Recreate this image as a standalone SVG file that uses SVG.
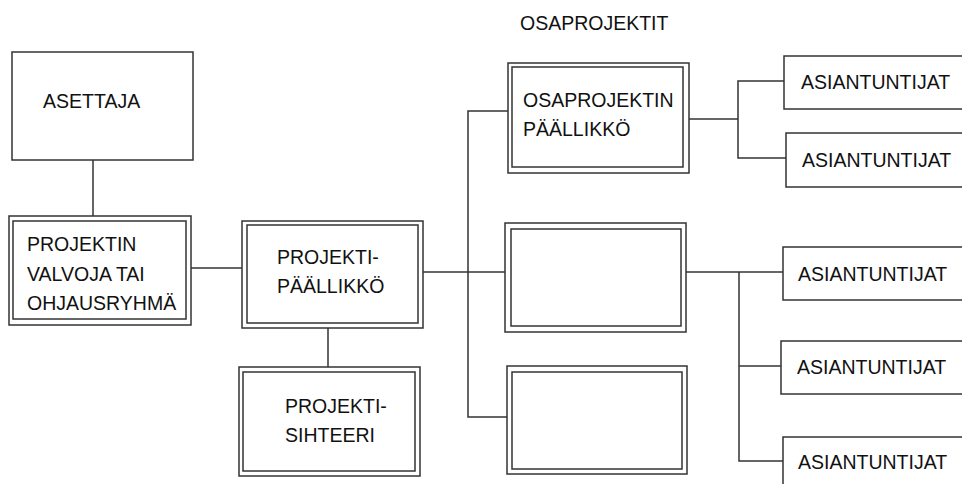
<svg xmlns="http://www.w3.org/2000/svg" width="962" height="484" viewBox="0 0 962 484">
<style>
rect{fill:none;stroke:#333;stroke-width:1.5}
.bg{fill:#fff;stroke:none}
line,polyline{fill:none;stroke:#333;stroke-width:1.5}
text{font-family:"Liberation Sans",Arial,sans-serif;font-size:19.5px;fill:#111}
</style>
<rect class="bg" x="0" y="0" width="962" height="484"/>
<text x="520" y="30">OSAPROJEKTIT</text>
<g id="connectors">
<line x1="93" y1="160" x2="93" y2="216"/>
<line x1="191" y1="268" x2="242" y2="268"/>
<line x1="328" y1="328" x2="328" y2="367"/>
<line x1="423" y1="272" x2="505" y2="272"/>
<polyline points="508,111 468,111 468,417 507,417"/>
<line x1="689" y1="119" x2="738" y2="119"/>
<polyline points="784,81 738,81 738,158 786,158"/>
<line x1="686" y1="272" x2="783" y2="272"/>
<polyline points="739,272 739,461 783,461"/>
<line x1="739" y1="366" x2="781" y2="366"/>
</g>
<g id="asettaja">
<rect x="12" y="52" width="181" height="108"/>
<text x="43" y="108">ASETTAJA</text>
</g>
<g id="valvoja">
<rect x="9" y="216" width="182" height="109"/>
<rect x="13" y="221" width="173" height="98"/>
<text x="27" y="251">PROJEKTIN</text>
<text x="27" y="281">VALVOJA TAI</text>
<text x="27" y="310">OHJAUSRYHMÄ</text>
</g>
<g id="paallikko">
<rect x="242" y="221" width="181" height="107"/>
<rect x="247" y="225" width="171" height="98"/>
<text x="277" y="264">PROJEKTI-</text>
<text x="277" y="293">PÄÄLLIKKÖ</text>
</g>
<g id="sihteeri">
<rect x="239" y="367" width="181" height="109"/>
<rect x="243" y="372" width="172" height="99"/>
<text x="285" y="413">PROJEKTI-</text>
<text x="285" y="442">SIHTEERI</text>
</g>
<g id="osaprojektin-paallikko">
<rect x="508" y="63" width="181" height="110"/>
<rect x="512" y="67" width="171" height="100"/>
<text x="523" y="107">OSAPROJEKTIN</text>
<text x="523" y="136">PÄÄLLIKKÖ</text>
</g>
<g id="osaprojekti2">
<rect x="505" y="223" width="181" height="109"/>
<rect x="511" y="229" width="170" height="97"/>
</g>
<g id="osaprojekti3">
<rect x="507" y="366" width="180" height="108"/>
<rect x="512" y="372" width="170" height="97"/>
</g>
<g id="asiantuntijat1">
<rect x="784" y="56" width="190" height="53"/>
<text x="801" y="89">ASIANTUNTIJAT</text>
</g>
<g id="asiantuntijat2">
<rect x="786" y="133" width="190" height="54"/>
<text x="802" y="167">ASIANTUNTIJAT</text>
</g>
<g id="asiantuntijat3">
<rect x="783" y="247" width="190" height="53"/>
<text x="798" y="281">ASIANTUNTIJAT</text>
</g>
<g id="asiantuntijat4">
<rect x="781" y="341" width="190" height="53"/>
<text x="797" y="374">ASIANTUNTIJAT</text>
</g>
<g id="asiantuntijat5">
<rect x="783" y="437" width="190" height="60"/>
<text x="798" y="469">ASIANTUNTIJAT</text>
</g>
</svg>
